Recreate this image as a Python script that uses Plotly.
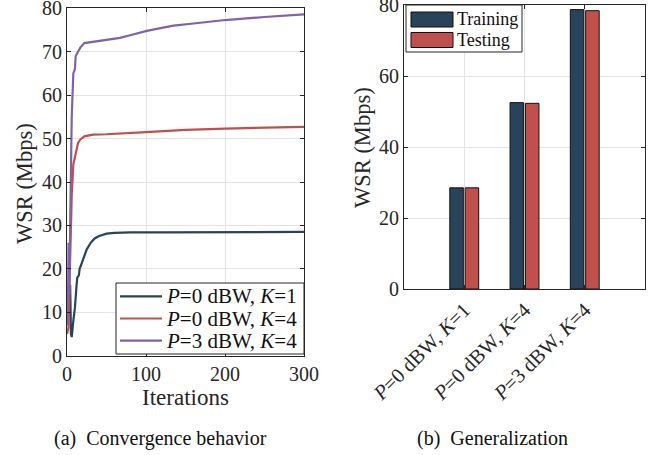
import plotly.graph_objects as go

W, H = 662, 455

# ---------------- data ----------------
iter_k1 = [0, 1, 3, 4, 5, 6, 8, 10, 12, 13, 15, 16, 18, 20, 25, 30, 35, 40, 50, 60, 80, 120, 200, 300]
wsr_k1 = [8.0, 9.0, 12.0, 16.3, 5.0, 4.3, 8.0, 11.0, 16.0, 18.0, 18.5, 20.0, 21.0, 22.0, 24.5, 26.0, 27.0, 27.5, 28.1, 28.3, 28.4, 28.4, 28.5, 28.5]

iter_p0k4 = [0, 1, 2, 3, 4, 5, 6, 8, 10, 12, 14, 17, 22, 33, 50, 100, 150, 200, 250, 300]
wsr_p0k4 = [5.0, 5.5, 6.5, 15.0, 25.0, 32.0, 37.0, 44.0, 45.5, 47.5, 49.0, 49.8, 50.5, 50.9, 51.0, 51.5, 52.0, 52.3, 52.5, 52.7]

iter_p3k4 = [0, 1, 2, 3, 4, 5, 6, 7, 8, 10, 11, 14, 17, 22, 33, 50, 67, 80, 101, 120, 135, 160, 200, 250, 300]
wsr_p3k4 = [7.0, 8.0, 26.0, 14.0, 30.0, 45.0, 55.0, 60.0, 65.0, 66.0, 69.0, 70.0, 71.0, 72.0, 72.3, 72.7, 73.2, 73.8, 74.8, 75.5, 76.0, 76.5, 77.3, 78.0, 78.6]

line_names = ["<i>P</i>=0 dBW, <i>K</i>=1", "<i>P</i>=0 dBW, <i>K</i>=4", "<i>P</i>=3 dBW, <i>K</i>=4"]

bar_categories = ["<i>P</i>=0 dBW, <i>K</i>=1", "<i>P</i>=0 dBW, <i>K</i>=4", "<i>P</i>=3 dBW, <i>K</i>=4"]
bar_series = ["Training", "Testing"]
training = [28.5, 52.5, 78.7]
testing = [28.5, 52.3, 78.4]

x_ticks_left = [0, 100, 200, 300]
y_ticks_left = [0, 10, 20, 30, 40, 50, 60, 70, 80]
y_ticks_right = [0, 20, 40, 60, 80]

# ---------------- style ----------------
NAVY = "#28435a"
RED = "#c0504d"
PURPLE = "#7e62aa"
AXC = "#262626"
GRID = "#e3e3e3"
FONT = "Liberation Serif, Times New Roman, serif"


def px(x):
    return x / W


def py(y):
    return 1 - y / H


fig = go.Figure()

line_colors = [NAVY, RED, PURPLE]
for xs, ys, nm, col in [(iter_k1, wsr_k1, line_names[0], NAVY),
                        (iter_p0k4, wsr_p0k4, line_names[1], RED),
                        (iter_p3k4, wsr_p3k4, line_names[2], PURPLE)]:
    fig.add_trace(go.Scatter(x=xs, y=ys, mode="lines", name=nm,
                             line=dict(color=col, width=2.2),
                             xaxis="x", yaxis="y", showlegend=False))

for vals, nm, col in [(training, bar_series[0], NAVY), (testing, bar_series[1], RED)]:
    fig.add_trace(go.Bar(x=bar_categories, y=vals, name=nm,
                         marker=dict(color=col, line=dict(color="#111111", width=1)),
                         xaxis="x2", yaxis="y2", showlegend=False))

axis_common = dict(showline=True, linecolor=AXC, linewidth=1, mirror="ticks",
                   ticks="inside", ticklen=4, tickcolor=AXC, automargin=False,
                   showgrid=True, gridcolor=GRID, gridwidth=1, zeroline=False,
                   tickfont=dict(family=FONT, size=20, color=AXC))

fig.update_layout(
    template="none",
    width=W, height=H,
    margin=dict(l=0, r=0, t=0, b=0, pad=0),
    paper_bgcolor="white", plot_bgcolor="white",
    font=dict(family=FONT, color=AXC),
    barmode="group", bargap=0.49, bargroupgap=0.12,
    showlegend=False,
    xaxis=dict(domain=[px(67), px(304)], range=[0, 300], tickvals=x_ticks_left,
               anchor="y", **axis_common),
    yaxis=dict(domain=[py(355.7), py(8.3)], range=[0, 80.0001], tickvals=y_ticks_left,
               anchor="x", ticklabeloverflow="allow", **axis_common),
    xaxis2=dict(domain=[px(404), px(645)], range=[-1, 3], type="category",
                tickangle=-45, anchor="y2",
                **{k: v for k, v in axis_common.items() if k != "tickfont"},
                tickfont=dict(family=FONT, size=20.5, color=AXC)),
    yaxis2=dict(domain=[py(289), py(5)], range=[0, 80.0001], tickvals=y_ticks_right,
                anchor="x2", ticklabeloverflow="allow", **axis_common),
)

# legend for line chart (drawn like the reference's boxed legend)
fig.add_shape(type="rect", xref="paper", yref="paper",
              x0=px(116), x1=px(304), y0=py(354), y1=py(283),
              line=dict(color=AXC, width=1), fillcolor="white", layer="above")
for i, (nm, col) in enumerate(zip(line_names, line_colors)):
    yc = 296.3 + i * 22.2
    fig.add_shape(type="line", xref="paper", yref="paper",
                  x0=px(120), x1=px(162), y0=py(yc), y1=py(yc),
                  line=dict(color=col, width=2.2), layer="above")
    fig.add_annotation(text=nm, x=px(164), y=py(yc), xref="paper", yref="paper",
                       xanchor="left", yanchor="middle", showarrow=False,
                       font=dict(family=FONT, size=21, color="#111111"))

# legend for bar chart (wide swatches like the reference)
fig.add_shape(type="rect", xref="paper", yref="paper",
              x0=px(406), x1=px(522), y0=py(52), y1=py(5),
              line=dict(color=AXC, width=1), fillcolor="white", layer="above")
for i, (nm, col) in enumerate([(bar_series[0], NAVY), (bar_series[1], RED)]):
    top = 12 + i * 20.5
    fig.add_shape(type="rect", xref="paper", yref="paper",
                  x0=px(411), x1=px(453), y0=py(top + 15), y1=py(top),
                  line=dict(color="#111111", width=1), fillcolor=col, layer="above")
    fig.add_annotation(text=nm, x=px(455), y=py(top + 7.5), xref="paper", yref="paper",
                       xanchor="left", yanchor="middle", showarrow=False,
                       font=dict(family=FONT, size=18, color="#111111"))

annots = [
    dict(text="WSR (Mbps)", x=px(24), y=py(184), textangle=-90, size=22.5, color=AXC),
    dict(text="WSR (Mbps)", x=px(363), y=py(148), textangle=-90, size=22.5, color=AXC),
    dict(text="Iterations", x=px(185), y=py(397), textangle=0, size=23, color=AXC),
    dict(text="(a)  Convergence behavior", x=px(160), y=py(438), textangle=0, size=20, color="#111111"),
    dict(text="(b)  Generalization", x=px(492), y=py(438), textangle=0, size=20, color="#111111"),
]
for a in annots:
    fig.add_annotation(text=a["text"], x=a["x"], y=a["y"], xref="paper", yref="paper",
                       xanchor="center", yanchor="middle", showarrow=False,
                       textangle=a["textangle"],
                       font=dict(family=FONT, size=a["size"], color=a["color"]))

fig.write_html("out.html")
